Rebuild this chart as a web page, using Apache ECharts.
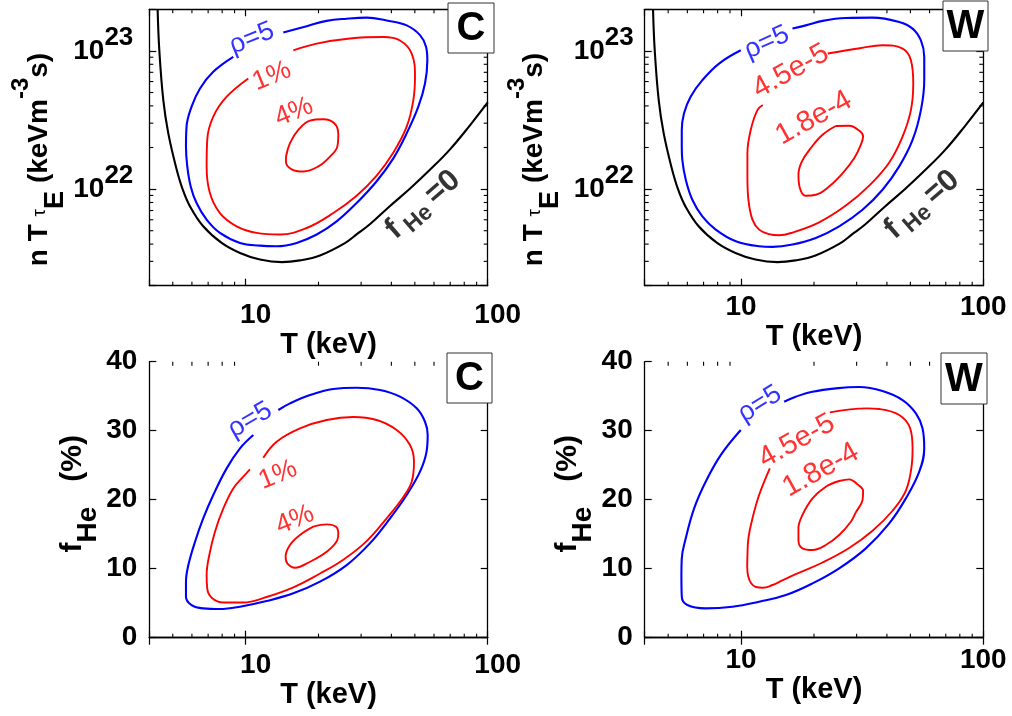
<!DOCTYPE html>
<html><head><meta charset="utf-8">
<script src="https://cdn.jsdelivr.net/npm/echarts@6/dist/echarts.min.js"></script>
<style>html,body{margin:0;padding:0;background:#fff}#c{width:1012px;height:716px}</style>
</head><body><div id="c"></div>
<script>
// ---------------- data ----------------
const xRange = [4, 100];
const yLogRange = [2e21, 2e23];
const fHeRange = [0, 40];
const xMajorExp = [1, 2];
const xMinorTicks = [5, 6, 7, 8, 9, 20, 30, 40, 50, 60, 70, 80, 90];
const yLogMajorExp = [22, 23];
const yMinorTicksLog = [3e21, 4e21, 5e21, 6e21, 7e21, 8e21, 9e21, 2e22, 3e22, 4e22, 5e22, 6e22, 7e22, 8e22, 9e22];

// f_He = 0 boundary (n T tauE vs T)
const fHe0Curve = [[4.33,1.99e23],[4.40,1.01e23],[4.57,4.40e22],[4.79,2.54e22],[5.15,1.46e22],[5.49,1.0e22],[5.89,7.5e21],[6.68,5.38e21],[7.96,4.08e21],[9.48,3.45e21],[11.46,3.09e21],[14.13,2.96e21],[16.77,3.05e21],[20.28,3.31e21],[25.72,4.07e21],[28.8,4.72e21],[32.6,5.57e21],[39.5,7.55e21],[47.8,1.01e22],[58,1.39e22],[69.9,1.94e22],[84,2.86e22],[100,4.24e22]];

// panel C, n T tauE
const rhoC1 = [[14.31,1.36e23],[17.87,1.51e23],[21.61,1.65e23],[26.15,1.71e23],[31.62,1.74e23],[38.24,1.66e23],[46.27,1.53e23],[52.53,1.30e23],[55.62,1.07e23],[56.32,8.56e22],[55.08,5.81e22],[51.69,3.95e22],[46.27,2.53e22],[40.76,1.67e22],[34.78,1.14e22],[28.75,7.93e21],[23.77,5.84e21],[19.66,4.69e21],[16.25,4.08e21],[13.43,3.86e21],[11.46,3.90e21],[9.48,4.08e21],[7.83,4.82e21],[6.90,6.01e21],[6.27,7.93e21],[5.93,1.045e22],[5.74,1.46e22],[5.67,2.03e22],[5.70,2.83e22],[5.98,3.95e22],[6.48,5.35e22],[7.35,7.06e22],[8.89,9.05e22]];
const impC1a = [[15.74,1.01e23],[19.66,1.13e23],[26.98,1.23e23],[37.06,1.26e23],[43.42,1.19e23],[48.53,9.57e22],[50.08,6.49e22],[49.3,4.41e22],[46.27,2.83e22],[40.76,1.84e22],[34.78,1.25e22],[28.75,8.95e21],[23.03,6.71e21],[17.87,5.23e21],[13.87,4.69e21],[11.1,4.82e21],[9.18,5.38e21],[7.83,6.71e21],[7.12,9.36e21],[6.90,1.46e22],[6.94,2.27e22],[7.35,3.34e22],[8.35,4.66e22],[10.26,6.32e22]];
const impC1b = [[14.68,1.72e22],[15.25,2.15e22],[16.5,2.68e22],[18.45,3.13e22],[20.94,3.20e22],[23.4,2.96e22],[24.15,2.47e22],[23.92,2.03e22],[22.32,1.72e22],[19.97,1.46e22],[17.31,1.34e22],[15.49,1.39e22],[14.68,1.58e22],[14.68,1.72e22]];

// panel W, n T tauE
const rhoW1 = [[16.30,1.45e23],[18.50,1.53e23],[21.69,1.65e23],[27.07,1.73e23],[34.89,1.74e23],[44.97,1.62e23],[51.05,1.45e23],[55.26,1.19e23],[57.04,9.05e22],[57.04,6.14e22],[55.26,3.73e22],[51.05,2.27e22],[44.97,1.46e22],[38.37,9.89e21],[31.72,7.09e21],[25.41,5.38e21],[20.35,4.43e21],[16.30,3.97e21],[13.48,3.82e21],[11.87,3.86e21],[9.51,4.19e21],[7.86,5.09e21],[6.92,6.35e21],[6.29,8.38e21],[5.91,1.17e22],[5.72,1.63e22],[5.69,2.03e22],[5.69,2.68e22],[5.81,3.53e22],[6.19,4.66e22],[6.92,6.14e22],[8.11,8.10e22],[9.97,1.01e23]];
const impW1a = [[22.8,9.57e22],[30.93,1.045e23],[38.37,1.10e23],[46.42,1.04e23],[50.25,8.56e22],[51.38,5.81e22],[50.25,3.73e22],[46.42,2.40e22],[40.9,1.56e22],[33.8,1.06e22],[27.07,7.6e21],[21.0,5.75e21],[16.30,4.85e21],[14.35,4.63e21],[13.05,4.72e21],[11.87,5.09e21],[11.14,6.01e21],[10.72,8.38e21],[10.62,1.23e22],[10.62,1.82e22],[10.96,2.68e22],[11.68,3.73e22],[12.29,4.06e22]];
const impW1b = [[24.6,2.86e22],[27.94,2.87e22],[30.73,2.65e22],[31.9,2.40e22],[31.2,2.09e22],[29.3,1.67e22],[26.23,1.30e22],[23.1,1.045e22],[20.35,9.10e21],[18.5,8.95e21],[17.48,1.02e22],[17.25,1.27e22],[17.81,1.58e22],[19.4,1.98e22],[21.69,2.47e22],[24.6,2.86e22]];

// panel C, f_He (%)
const rhoC2 = [[13.65,33.0],[15.25,33.96],[18.45,35.17],[23.03,36.04],[28.75,36.23],[35.9,35.89],[43.42,34.93],[50.88,33.24],[55.08,31.30],[56.5,29.37],[55.9,26.96],[52.53,24.06],[46.27,20.68],[39.5,17.29],[32.6,13.67],[26.15,10.53],[20.29,8.12],[15.74,6.43],[12.2,5.31],[9.48,4.49],[7.83,4.15],[6.68,4.25],[5.98,4.73],[5.67,5.94],[5.67,8.12],[5.80,10.53],[6.18,13.91],[6.68,17.29],[7.35,20.68],[8.35,24.54],[9.48,27.44],[10.76,29.37]];
const impC2a = [[11.83,26.09],[13.43,28.41],[16.77,30.34],[21.61,31.55],[27.85,31.98],[34.78,31.55],[42.07,30.1],[47.75,27.92],[49.6,25.51],[48.53,22.61],[44.83,20.4],[38.24,17.3],[31.62,14.0],[25.32,11.3],[20.29,9.3],[15.74,7.3],[12.2,5.9],[9.78,5.1],[8.09,5.1],[7.24,5.80],[6.94,7.15],[6.90,9.08],[7.08,11.98],[7.47,15.36],[8.09,18.74],[8.89,21.64],[9.78,23.33],[10.42,24.4]];
const impC2b = [[19.04,16.09],[21.61,16.43],[23.62,16.09],[24.15,15.12],[23.92,14.15],[21.61,12.46],[18.45,11.01],[16.0,10.14],[14.86,10.77],[14.63,11.74],[15.25,13.43],[16.77,14.88],[19.04,16.09]];

// panel W, f_He (%)
const rhoW2 = [[15.06,34.20],[16.82,34.93],[19.72,35.65],[24.6,36.14],[30.73,36.33],[38.37,35.75],[46.42,34.44],[52.7,32.51],[56.1,30.34],[57.04,27.44],[54.4,24.06],[47.9,20.19],[40.9,16.57],[32.74,12.95],[25.41,10.05],[19.72,7.87],[15.30,6.18],[11.87,5.22],[9.21,4.49],[7.14,4.25],[6.0,4.73],[5.69,5.94],[5.67,9.08],[5.69,11.5],[5.91,14.4],[6.40,18.74],[7.14,22.6],[8.24,26.47],[9.97,30.1]];
const impW2a = [[23.25,32.66],[33.05,33.24],[37.17,33.14],[44.97,32.27],[49.9,30.34],[51.05,27.44],[50.65,25.02],[47.9,21.3],[42.2,18.4],[34.89,15.5],[27.94,13.0],[21.69,10.9],[16.82,9.2],[14.8,8.3],[13.4,7.6],[12.3,7.25],[11.5,7.35],[11.0,7.9],[10.7,8.9],[10.6,10.3],[10.62,11.8],[10.72,14.4],[11.14,17.29],[11.87,20.68],[13.14,24.54]];
const impW2b = [[25.41,22.71],[27.94,22.95],[30.25,22.22],[31.9,21.26],[31.72,19.95],[29.77,18.16],[28.39,16.81],[25.41,14.88],[22.38,13.43],[19.72,12.71],[17.92,12.95],[17.25,14.15],[17.25,15.85],[17.92,17.78],[19.72,20.19],[22.38,21.88],[25.41,22.71]];

// contour labels and where they sit (data coordinates)
const labelsC = ['ρ=5', '1%', '4%'];
const labelsW = ['ρ=5', '4.5e-5', '1.8e-4'];
const anchorsC1 = [[10.6,1.23e23],[12.84,6.56e22],[15.84,3.61e22]];
const anchorsW1 = [[12.77,1.15e23],[16.05,7.13e22],[19.97,3.27e22]];
const anchorsC2 = [[10.42,31.55],[13.6,23.58],[15.99,17.06]];
const anchorsW2 = [[11.95,33.87],[16.99,28.5],[21.35,24.3]];
const fHe0AnchorC = [54.0,7.71e21];
const fHe0AnchorW = [55.8,7.71e21];
const panelLetters = ['C', 'W', 'C', 'W'];

// ---------------- chart ----------------
const FONT = "'Liberation Sans', Arial, Helvetica, sans-serif";
const BLUE = '#0000ff', RED = '#ff0000', BLACK = '#000000';

const grids = [
  {left: 149.3, top: 9.3, width: 338.4, height: 276.4},
  {left: 644.7, top: 9.3, width: 338.6, height: 276.4},
  {left: 149.3, top: 361.7, width: 338.4, height: 276},
  {left: 644.7, top: 361.7, width: 338.6, height: 276}
];
const xLabelMargin = [16, 8, 14, 9];
const xLabelShift = [20, 0, 20, 0];
const xNameGap = [42, 35, 41, 36];
const yLabelMargin = [16, 11, 12, 12];
const rotC1 = [22, 22, 22], rotW1 = [24, 29, 29], rotC2 = [30, 22, 22], rotW2 = [32, 29, 29];
const sizeC = [27, 27, 27], sizeW = [27, 29, 29];

function isPow10(v, list) {
  const e = Math.log10(v), r = Math.round(e);
  return Math.abs(e - r) < 1e-6 && list.indexOf(r) >= 0 ? r : null;
}

const axisLineStyle = {color: '#000', width: 1.3};
const tickStyle = {inside: true, length: 7, lineStyle: {color: '#000', width: 1.2}};
const xAxes = [], yAxes = [], series = [];

grids.forEach((g, p) => {
  const top = p < 2;
  xAxes.push({
    type: 'log', gridIndex: p, min: xRange[0], max: xRange[1], position: 'bottom',
    axisLine: {lineStyle: axisLineStyle}, axisTick: tickStyle, splitLine: {show: false},
    axisLabel: {
      margin: xLabelMargin[p], padding: [0, 0, 0, xLabelShift[p]],
      fontFamily: FONT, fontWeight: 'bold', fontSize: 28, color: '#000',
      formatter: v => (isPow10(v, xMajorExp) !== null ? String(Math.round(v)) : '')
    },
    name: 'T (keV)', nameLocation: 'middle', nameGap: xNameGap[p],
    nameTextStyle: {fontFamily: FONT, fontWeight: 'bold', fontSize: 29, color: '#000', padding: [0, 0, 0, xLabelShift[p]]}
  });
  xAxes.push({
    type: 'log', gridIndex: p, min: xRange[0], max: xRange[1], position: 'top',
    axisLine: {lineStyle: axisLineStyle}, axisTick: tickStyle,
    axisLabel: {show: false}, splitLine: {show: false}
  });
  const yBase = top
    ? {type: 'log', min: yLogRange[0], max: yLogRange[1]}
    : {type: 'value', min: fHeRange[0], max: fHeRange[1], interval: 10};
  yAxes.push(Object.assign({}, yBase, {
    gridIndex: p, position: 'left',
    axisLine: {lineStyle: axisLineStyle}, axisTick: tickStyle, splitLine: {show: false},
    axisLabel: top ? {
      margin: yLabelMargin[p], color: '#000',
      formatter: v => { const r = isPow10(v, yLogMajorExp); return r !== null ? '{b|10}{s|' + r + '}' : ''; },
      rich: {
        b: {fontFamily: FONT, fontWeight: 'bold', fontSize: 28, lineHeight: 30, verticalAlign: 'middle'},
        s: {fontFamily: FONT, fontWeight: 'bold', fontSize: 26, lineHeight: 26, padding: [0, 0, 26, 0], verticalAlign: 'middle'}
      }
    } : {
      margin: yLabelMargin[p], color: '#000', fontFamily: FONT, fontWeight: 'bold', fontSize: 28
    },
    name: top ? '{m|n T }{t|τ}{e|E}{m| (keVm}{u|-3}{m|s)}' : '{m|f}{h|He}{m|   (%)}',
    nameLocation: 'middle', nameRotate: 90, nameGap: top ? 95 : 58,
    nameTextStyle: {
      color: '#000',
      padding: top ? [0, 24, 0, 0] : [0, 0, 0, 12],
      rich: {
        m: {fontFamily: FONT, fontWeight: 'bold', fontSize: top ? 28 : 30, lineHeight: 30, verticalAlign: 'middle'},
        t: {fontFamily: FONT, fontWeight: 'normal', fontSize: 19, lineHeight: 20, verticalAlign: 'middle'},
        e: {fontFamily: FONT, fontWeight: 'bold', fontSize: 27, lineHeight: 28, padding: [32, 0, 0, 0], verticalAlign: 'middle'},
        u: {fontFamily: FONT, fontWeight: 'bold', fontSize: 24, lineHeight: 24, padding: [0, 0, 35, 0], verticalAlign: 'middle'},
        h: {fontFamily: FONT, fontWeight: 'bold', fontSize: 28, lineHeight: 28, padding: [31, 0, 0, 0], verticalAlign: 'middle'}
      }
    }
  }));
  yAxes.push(Object.assign({}, yBase, {
    gridIndex: p, position: 'right',
    axisLine: {lineStyle: axisLineStyle}, axisTick: tickStyle,
    axisLabel: {show: false}, splitLine: {show: false}
  }));

  // minor ticks (drawn through the axes' scales)
  const yMin = top ? yLogRange[0] : fHeRange[0];
  const tickData = xMinorTicks.map(v => [v, yMin, 0])
    .concat(top ? yMinorTicksLog.map(v => [xRange[0], v, 1]) : []);
  series.push({
    type: 'custom', xAxisIndex: 2 * p, yAxisIndex: 2 * p, clip: false, silent: true, z: 4,
    dimensions: ['x', 'y', 'k'], encode: {x: 0, y: 1},
    data: tickData,
    renderItem: (params, api) => {
      const cs = params.coordSys;
      const pt = api.coord([api.value(0), api.value(1)]);
      const L = 4, st = {stroke: '#000', lineWidth: 1.1};
      if (api.value(2) === 0) {
        return {type: 'group', children: [
          {type: 'line', shape: {x1: pt[0], y1: cs.y + cs.height, x2: pt[0], y2: cs.y + cs.height - L}, style: st},
          {type: 'line', shape: {x1: pt[0], y1: cs.y, x2: pt[0], y2: cs.y + L}, style: st}
        ]};
      }
      return {type: 'group', children: [
        {type: 'line', shape: {x1: cs.x, y1: pt[1], x2: cs.x + L, y2: pt[1]}, style: st},
        {type: 'line', shape: {x1: cs.x + cs.width, y1: pt[1], x2: cs.x + cs.width - L, y2: pt[1]}, style: st}
      ]};
    }
  });
});

function curve(p, data, color, width) {
  return {
    type: 'line', xAxisIndex: 2 * p, yAxisIndex: 2 * p, data: data,
    symbol: 'none', showSymbol: false, smooth: 0.4, clip: true, z: 3,
    lineStyle: {color: color, width: width || 2}, silent: true
  };
}
function labels(p, texts, anchors, rots, sizes) {
  return {
    type: 'scatter', xAxisIndex: 2 * p, yAxisIndex: 2 * p, symbolSize: 1, silent: true, z: 6,
    itemStyle: {color: 'rgba(0,0,0,0)'},
    data: texts.map((t, i) => ({value: anchors[i], label: {formatter: t, rotate: rots[i], color: i === 0 ? BLUE : RED, fontSize: sizes[i], fontFamily: FONT}})),
    label: {show: true, position: 'inside', fontFamily: FONT, fontSize: 27, fontWeight: 'normal'}
  };
}
function fHeLabel(p, anchor) {
  return {
    type: 'scatter', xAxisIndex: 2 * p, yAxisIndex: 2 * p, symbolSize: 1, silent: true, z: 6,
    itemStyle: {color: 'rgba(0,0,0,0)'},
    data: [{value: anchor}],
    label: {
      show: true, position: 'inside', rotate: 41, color: BLACK,
      formatter: '{a|f}{s| He }{a|=0}',
      rich: {
        a: {fontFamily: FONT, fontWeight: 'bold', fontSize: 31, lineHeight: 32, color: BLACK, verticalAlign: 'middle'},
        s: {fontFamily: FONT, fontWeight: 'bold', fontSize: 23, lineHeight: 24, padding: [16, 0, 0, 0], color: BLACK, verticalAlign: 'middle'}
      }
    }
  };
}

series.push(
  curve(0, fHe0Curve, BLACK, 2.1), curve(0, rhoC1, BLUE, 2.1), curve(0, impC1a, RED, 1.9), curve(0, impC1b, RED, 1.9),
  labels(0, labelsC, anchorsC1, rotC1, sizeC), fHeLabel(0, fHe0AnchorC),
  curve(1, fHe0Curve, BLACK, 2.1), curve(1, rhoW1, BLUE, 2.1), curve(1, impW1a, RED, 1.9), curve(1, impW1b, RED, 1.9),
  labels(1, labelsW, anchorsW1, rotW1, sizeW), fHeLabel(1, fHe0AnchorW),
  curve(2, rhoC2, BLUE, 2.1), curve(2, impC2a, RED, 1.9), curve(2, impC2b, RED, 1.9),
  labels(2, labelsC, anchorsC2, rotC2, sizeC),
  curve(3, rhoW2, BLUE, 2.1), curve(3, impW2a, RED, 1.9), curve(3, impW2b, RED, 1.9),
  labels(3, labelsW, anchorsW2, rotW2, sizeW)
);

const boxes = [
  {x: 448, y: 3, w: 46, h: 50},
  {x: 943, y: 1, w: 45, h: 50},
  {x: 447, y: 353, w: 45, h: 50},
  {x: 941, y: 353, w: 46, h: 51}
];
const graphic = [];
boxes.forEach((b, i) => {
  graphic.push({type: 'rect', z: 100, shape: {x: b.x, y: b.y, width: b.w, height: b.h},
    style: {fill: '#fff', stroke: '#333', lineWidth: 1}});
  graphic.push({type: 'text', z: 101, x: b.x + b.w / 2, y: b.y + b.h / 2 + 1,
    style: {text: panelLetters[i], fill: '#000', fontFamily: FONT, fontWeight: 'bold', fontSize: 40, align: 'center', verticalAlign: 'middle'}});
});

const chart = echarts.init(document.getElementById('c'), null, {renderer: 'canvas'});
chart.setOption({
  animation: false,
  backgroundColor: '#fff',
  grid: grids,
  xAxis: xAxes,
  yAxis: yAxes,
  series: series,
  graphic: graphic
});
</script>
</body></html>
